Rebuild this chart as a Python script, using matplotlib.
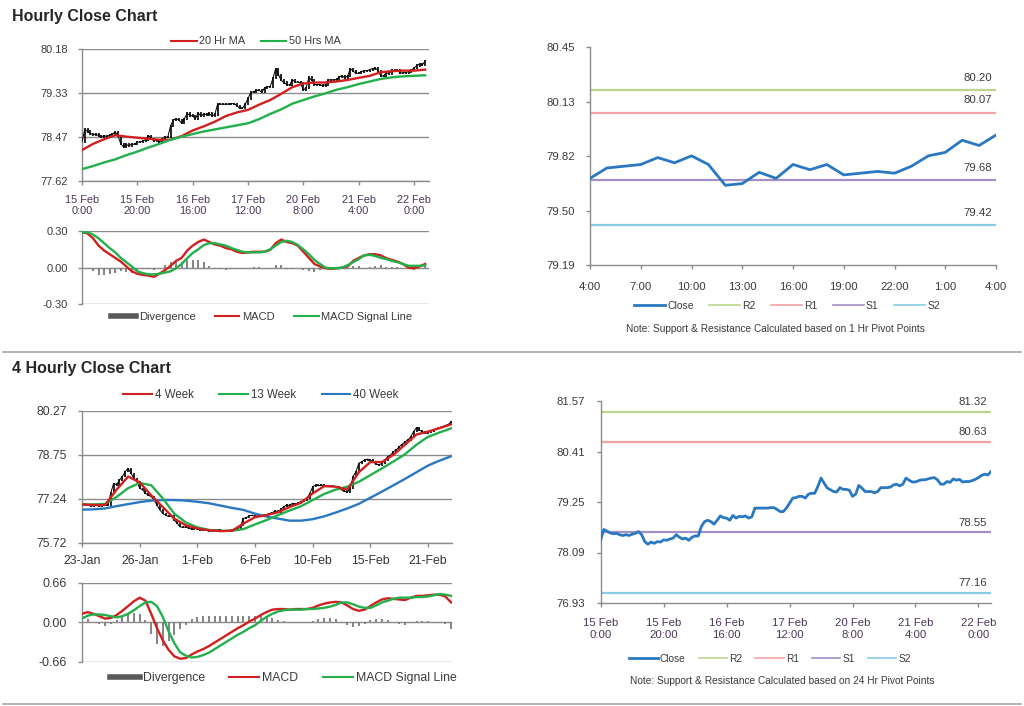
import matplotlib
matplotlib.use('Agg')
import matplotlib.pyplot as plt
import numpy as np
from matplotlib.lines import Line2D

plt.rcParams['font.family'] = ['Liberation Sans', 'DejaVu Sans']

# ---------------- DATA ----------------
hourly_close = [78.38, 78.62, 78.58, 78.54, 78.52, 78.53, 78.50, 78.48, 78.50, 78.48,
                78.51, 78.53, 78.57, 78.50, 78.34, 78.28, 78.33, 78.30, 78.34, 78.33,
                78.38, 78.37, 78.40, 78.42, 78.50, 78.44, 78.40, 78.42, 78.37, 78.44,
                78.47, 78.47, 78.69, 78.80, 78.83, 78.80, 78.74, 78.83, 78.93, 78.89,
                78.88, 78.83, 78.94, 78.88, 78.92, 78.91, 78.93, 78.88, 78.91, 79.11,
                79.11, 79.11, 79.11, 79.11, 79.12, 79.12, 79.08, 79.03, 79.03, 79.11,
                79.22, 79.34, 79.35, 79.38, 79.38, 79.34, 79.43, 79.45, 79.45, 79.61,
                79.80, 79.68, 79.57, 79.53, 79.49, 79.48, 79.58, 79.54, 79.54, 79.52,
                79.38, 79.43, 79.63, 79.57, 79.49, 79.49, 79.49, 79.46, 79.49, 79.58,
                79.58, 79.58, 79.59, 79.64, 79.66, 79.62, 79.66, 79.80, 79.75, 79.71,
                79.71, 79.74, 79.76, 79.76, 79.78, 79.80, 79.81, 79.76, 79.66, 79.66,
                79.72, 79.70, 79.78, 79.75, 79.77, 79.71, 79.72, 79.72, 79.74, 79.77,
                79.81, 79.86, 79.89, 79.87, 79.95]
hourly_tick_labels = ['15 Feb\n0:00', '15 Feb\n20:00', '16 Feb\n16:00', '17 Feb\n12:00',
                      '20 Feb\n8:00', '21 Feb\n4:00', '22 Feb\n0:00']
ma20_hr = [78.22, 78.34, 78.43, 78.51, 78.48, 78.46, 78.44, 78.42, 78.42, 78.49,
           78.60, 78.68, 78.77, 78.88, 78.95, 79.00, 79.10, 79.19, 79.31, 79.44,
           79.51, 79.53, 79.53, 79.55, 79.58, 79.62, 79.66, 79.73, 79.75, 79.76,
           79.76, 79.78]
ma50_hr = [77.85, 77.91, 77.98, 78.04, 78.12, 78.19, 78.27, 78.34, 78.42, 78.48,
           78.53, 78.58, 78.62, 78.66, 78.70, 78.74, 78.82, 78.92, 79.01, 79.12,
           79.19, 79.26, 79.32, 79.39, 79.44, 79.50, 79.55, 79.60, 79.63, 79.65,
           79.66, 79.67]
hourly_yticks = [77.62, 78.47, 79.33, 80.18]

macd_hr = [0.29, 0.28, 0.24, 0.18, 0.14, 0.11, 0.08, 0.05, 0.01, -0.03, -0.05, -0.06,
           -0.065, -0.075, -0.05, -0.02, 0.015, 0.055, 0.08, 0.14, 0.18, 0.21, 0.23,
           0.21, 0.19, 0.18, 0.16, 0.15, 0.13, 0.12, 0.125, 0.13, 0.13, 0.13, 0.145,
           0.20, 0.23, 0.21, 0.20, 0.18, 0.13, 0.08, 0.03, 0.01, -0.005, -0.01, -0.005,
           0.0, 0.01, 0.055, 0.08, 0.10, 0.11, 0.11, 0.10, 0.077, 0.063, 0.05, 0.03,
           0.0, -0.005, 0.01, 0.03]
signal_hr = [0.29, 0.29, 0.27, 0.24, 0.20, 0.16, 0.125, 0.08, 0.045, 0.01, -0.03, -0.045,
             -0.055, -0.055, -0.05, -0.04, -0.03, -0.005, 0.03, 0.077, 0.12, 0.15, 0.185,
             0.20, 0.20, 0.19, 0.18, 0.16, 0.145, 0.13, 0.125, 0.125, 0.125, 0.13, 0.15,
             0.18, 0.21, 0.22, 0.21, 0.185, 0.15, 0.11, 0.063, 0.03, 0.0, -0.005, -0.005,
             0.0, 0.02, 0.045, 0.07, 0.10, 0.105, 0.095, 0.08, 0.07, 0.055, 0.045, 0.03,
             0.015, 0.015, 0.015, 0.02]
macd_hr_yticks = [-0.30, 0.00, 0.30]

last24_close = [79.69, 79.75, 79.76, 79.77, 79.81, 79.78, 79.82, 79.77, 79.65, 79.66,
                79.725, 79.69, 79.77, 79.74, 79.77, 79.71, 79.72, 79.73, 79.72, 79.76,
                79.82, 79.84, 79.91, 79.88, 79.94]
last24_tick_labels = ['4:00', '7:00', '10:00', '13:00', '16:00', '19:00', '22:00', '1:00', '4:00']
last24_yticks = [79.19, 79.50, 79.82, 80.13, 80.45]
pivot_1h = {'R2': 80.20, 'R1': 80.07, 'S1': 79.68, 'S2': 79.42}

fourh_close = [77.05, 77.00, 77.02, 76.98, 77.00, 77.03, 76.98, 77.00, 77.02, 77.00,
               77.45, 77.77, 77.71, 77.88, 78.00, 78.17, 78.28, 78.11, 77.94, 77.82,
               77.60, 77.54, 77.42, 77.36, 77.31, 77.19, 77.02, 76.85, 76.73, 76.67,
               76.62, 76.65, 76.50, 76.39, 76.27, 76.24, 76.27, 76.21, 76.19, 76.24,
               76.19, 76.16, 76.17, 76.15, 76.12, 76.16, 76.13, 76.16, 76.15, 76.13,
               76.12, 76.15, 76.16, 76.16, 76.21, 76.30, 76.56, 76.58, 76.65, 76.67,
               76.62, 76.65, 76.62, 76.67, 76.69, 76.73, 76.76, 76.81, 76.78, 76.88,
               76.96, 77.02, 77.00, 77.08, 77.04, 77.10, 77.14, 77.19, 77.25, 77.42,
               77.65, 77.71, 77.68, 77.71, 77.68, 77.67, 77.68, 77.66, 77.65, 77.60,
               77.54, 77.50, 77.45, 77.60, 78.00, 78.17, 78.46, 78.51, 78.57, 78.60,
               78.57, 78.51, 78.42, 78.40, 78.46, 78.57, 78.69, 78.74, 78.86, 78.92,
               79.03, 79.11, 79.20, 79.26, 79.37, 79.55, 79.69, 79.60, 79.55, 79.49,
               79.52, 79.57, 79.61, 79.66, 79.69, 79.72, 79.76, 79.80, 79.89]
fourh_tick_labels = ['23-Jan', '26-Jan', '1-Feb', '6-Feb', '10-Feb', '15-Feb', '21-Feb']
ma_4week = [77.04, 77.02, 77.02, 77.55, 78.00, 77.80, 77.35, 76.95, 76.55, 76.32,
            76.21, 76.15, 76.12, 76.13, 76.38, 76.60, 76.67, 76.77, 76.95, 77.10,
            77.42, 77.67, 77.65, 77.55, 78.15, 78.50, 78.50, 78.75, 79.10, 79.45,
            79.55, 79.67, 79.80]
ma_13week = [77.04, 77.04, 77.06, 77.30, 77.60, 77.78, 77.70, 77.25, 76.72, 76.42,
             76.25, 76.16, 76.13, 76.13, 76.19, 76.35, 76.50, 76.67, 76.83, 76.98,
             77.19, 77.40, 77.55, 77.65, 77.82, 78.05, 78.28, 78.52, 78.77, 79.10,
             79.37, 79.52, 79.66]
ma_40week = [76.86, 76.87, 76.90, 76.98, 77.05, 77.12, 77.17, 77.19, 77.19, 77.17,
             77.13, 77.08, 77.00, 76.92, 76.85, 76.72, 76.62, 76.55, 76.48, 76.48,
             76.53, 76.63, 76.76, 76.90, 77.06, 77.27, 77.48, 77.70, 77.92, 78.15,
             78.38, 78.55, 78.70]
fourh_yticks = [75.72, 77.24, 78.75, 80.27]

macd_4h = [0.14, 0.17, 0.14, 0.10, 0.06, 0.07, 0.12, 0.19, 0.27, 0.35, 0.41, 0.36, 0.14,
           -0.10, -0.30, -0.46, -0.57, -0.61, -0.60, -0.54, -0.49, -0.45, -0.40, -0.34,
           -0.28, -0.22, -0.16, -0.10, -0.05, 0.01, 0.06, 0.12, 0.17, 0.21, 0.22, 0.22,
           0.21, 0.22, 0.22, 0.22, 0.24, 0.28, 0.31, 0.33, 0.34, 0.33, 0.28, 0.22, 0.19,
           0.21, 0.27, 0.33, 0.38, 0.40, 0.39, 0.38, 0.37, 0.41, 0.44, 0.44, 0.45, 0.46,
           0.46, 0.43, 0.33]
signal_4h = [0.06, 0.11, 0.13, 0.13, 0.12, 0.10, 0.08, 0.10, 0.14, 0.20, 0.27, 0.33, 0.34,
             0.27, 0.09, -0.15, -0.35, -0.50, -0.56, -0.59, -0.58, -0.55, -0.51, -0.45,
             -0.39, -0.33, -0.27, -0.21, -0.16, -0.10, -0.05, 0.02, 0.09, 0.14, 0.18, 0.20,
             0.21, 0.21, 0.21, 0.22, 0.22, 0.23, 0.24, 0.26, 0.29, 0.33, 0.33, 0.30, 0.26,
             0.24, 0.24, 0.28, 0.33, 0.36, 0.39, 0.41, 0.41, 0.41, 0.42, 0.42, 0.43, 0.45,
             0.47, 0.46, 0.44]
macd_4h_yticks = [-0.66, 0.00, 0.66]

wk_yticks = [76.93, 78.09, 79.25, 80.41, 81.57]
pivot_24h = {'R2': 81.32, 'R1': 80.63, 'S1': 78.55, 'S2': 77.16}

# ---------------- STYLE ----------------
W, H = 1024, 706
fig = plt.figure(figsize=(W / 100, H / 100), dpi=100)
fig.patch.set_facecolor('white')

RED = '#d0201f'
GREEN = '#22b04b'
BLUE = '#2a78c2'
GRID = '#8c8c8c'
SPINE = '#8c8c8c'
TXT = '#3a3a3a'
DATE_TXT = '#4a3658'
HIST = '#7a7a7a'
LVL = {'R2': '#b9d58e', 'R1': '#f2a3a3', 'S1': '#a48fc6', 'S2': '#86cbe4'}


def px_axes(x0, y0, x1, y1):
    return fig.add_axes([x0 / W, 1 - y1 / H, (x1 - x0) / W, (y1 - y0) / H])


def base_style(ax, fs, ypad, xpad):
    for s in ['top', 'right']:
        ax.spines[s].set_visible(False)
    for s in ['left', 'bottom']:
        ax.spines[s].set_color(SPINE)
        ax.spines[s].set_linewidth(1)
    ax.tick_params(axis='both', direction='out', length=3, width=1, color=SPINE,
                   labelsize=fs, labelcolor=TXT)
    ax.tick_params(axis='y', pad=ypad)
    ax.tick_params(axis='x', pad=xpad)
    ax.set_facecolor('none')


def price_bars(ax, closes):
    c = np.asarray(closes)
    x = np.arange(len(c))
    lo = np.minimum(c[:-1], c[1:])
    hi = np.maximum(c[:-1], c[1:])
    ax.vlines(x[1:], lo - 0.02, hi + 0.02, color='black', lw=1.2, zorder=3)
    ax.plot(x, c, color='black', lw=0.7, zorder=3)


def legend(handles, labels, cx, cy, fs, hl, cs, ht=0.25):
    fig.legend(handles, labels, loc='center', bbox_to_anchor=(cx / W, 1 - cy / H),
               ncol=len(handles), frameon=False, fontsize=fs, handlelength=hl,
               columnspacing=cs, handletextpad=ht, labelcolor=TXT, borderpad=0,
               borderaxespad=0)


# ---------------- TITLES / SEPARATORS ----------------
fig.text(12 / W, 1 - 16 / H, 'Hourly Close Chart', fontsize=11.5, fontweight='bold',
         color='#262626', va='center', ha='left')
fig.text(12 / W, 1 - 369 / H, '4 Hourly Close Chart', fontsize=11.5, fontweight='bold',
         color='#262626', va='center', ha='left')
fig.add_artist(Line2D([0.003, 0.997], [1 - 352 / H, 1 - 352 / H], color='#a6a6a6', lw=1.2))
fig.add_artist(Line2D([0.003, 0.997], [1 - 703.5 / H, 1 - 703.5 / H], color='#a6a6a6', lw=1.2))

# ---------------- TOP-LEFT: HOURLY PRICE ----------------
ax1 = px_axes(82, 49, 429, 181)
base_style(ax1, 7.9, 7, 7)
xh = np.arange(len(hourly_close))
price_bars(ax1, hourly_close)
xma = np.arange(len(ma20_hr)) * 4
ax1.plot(xma, ma20_hr, color=RED, lw=1.7, zorder=4)
ax1.plot(xma, ma50_hr, color=GREEN, lw=1.7, zorder=4)
ax1.set_xlim(0, 125.4)
ax1.set_ylim(hourly_yticks[0], hourly_yticks[-1])
ax1.set_yticks(hourly_yticks)
ax1.set_yticklabels([f'{v:.2f}' for v in hourly_yticks])
ax1.set_xticks(np.arange(0, 121, 20))
ax1.set_xticklabels(hourly_tick_labels, color=DATE_TXT, linespacing=1.15)
ax1.yaxis.grid(True, color=GRID, lw=1)
ax1.set_axisbelow(True)
legend([Line2D([], [], color=RED, lw=1.5), Line2D([], [], color=GREEN, lw=1.5)],
       ['20 Hr MA', '50 Hrs MA'], 256, 41.5, 7.9, 2.3, 1.4)

# ---------------- TOP-LEFT: HOURLY MACD ----------------
ax2 = px_axes(82, 231, 429, 304.3)
base_style(ax2, 8, 7, 3)
xm = np.arange(len(macd_hr)) * 2
div_hr = np.array(macd_hr) - np.array(signal_hr)
ax2.vlines(xm, 0, div_hr, color=HIST, lw=1.3, zorder=2)
ax2.axhline(0, color='#a0a0a0', lw=0.8, zorder=1)
ax2.plot(xm, macd_hr, color=RED, lw=1.7, zorder=4)
ax2.plot(xm, signal_hr, color=GREEN, lw=1.7, zorder=4)
ax2.set_xlim(0, 125.4)
ax2.set_ylim(-0.30, 0.30)
ax2.set_yticks(macd_hr_yticks)
ax2.set_yticklabels([f'{v:.2f}' for v in macd_hr_yticks])
ax2.set_xticks([])
ax2.yaxis.grid(True, color=GRID, lw=1)
ax2.spines['bottom'].set_visible(False)
legend([Line2D([], [], color='#595959', lw=4), Line2D([], [], color=RED, lw=1.5),
        Line2D([], [], color=GREEN, lw=1.5)],
       ['Divergence', 'MACD', 'MACD Signal Line'], 262, 317, 8.0, 2.2, 1.75)

# ---------------- TOP-RIGHT: LAST 24 HOURS WITH PIVOTS ----------------
ax3 = px_axes(590, 46.7, 996, 265)
base_style(ax3, 8.2, 8, 9)
x24 = np.arange(len(last24_close))
for k in ['R2', 'R1', 'S1', 'S2']:
    ax3.axhline(pivot_1h[k], color=LVL[k], lw=1.6, zorder=2)
    ax3.annotate(f'{pivot_1h[k]:.2f}', xy=(24, pivot_1h[k]), xytext=(-3, 9),
                 textcoords='offset points', ha='right', va='center', fontsize=8.2,
                 color=TXT)
ax3.plot(x24, last24_close, color=BLUE, lw=2.0, zorder=4)
ax3.set_xlim(0, 24)
ax3.set_ylim(last24_yticks[0], last24_yticks[-1])
ax3.set_yticks(last24_yticks)
ax3.set_yticklabels([f'{v:.2f}' for v in last24_yticks])
ax3.set_xticks(np.arange(0, 25, 3))
ax3.set_xticklabels(last24_tick_labels)
lvl_handles = [Line2D([], [], color=BLUE, lw=2.0)] + \
              [Line2D([], [], color=LVL[k], lw=1.2) for k in ['R2', 'R1', 'S1', 'S2']]
legend(lvl_handles, ['Close', 'R2', 'R1', 'S1', 'S2'], 787, 306, 7.5, 3.0, 1.45, 0.2)
fig.text(775 / W, 1 - 329 / H, 'Note: Support & Resistance Calculated based on 1 Hr Pivot Points',
         fontsize=7.3, color=TXT, ha='center', va='center')

# ---------------- BOTTOM-LEFT: 4-HOURLY PRICE ----------------
ax4 = px_axes(82, 410.7, 452, 542.7)
base_style(ax4, 8.8, 8, 6)
price_bars(ax4, fourh_close)
x4ma = np.arange(len(ma_4week)) * 4
ax4.plot(x4ma, ma_40week, color=BLUE, lw=1.7, zorder=4)
ax4.plot(x4ma, ma_13week, color=GREEN, lw=1.7, zorder=4)
ax4.plot(x4ma, ma_4week, color=RED, lw=1.7, zorder=5)
ax4.set_xlim(0, 128.3)
ax4.set_ylim(fourh_yticks[0], fourh_yticks[-1])
ax4.set_yticks(fourh_yticks)
ax4.set_yticklabels([f'{v:.2f}' for v in fourh_yticks])
ax4.set_xticks(np.arange(0, 121, 20))
ax4.set_xticklabels(fourh_tick_labels, color='#333333')
ax4.yaxis.grid(True, color=GRID, lw=1)
ax4.set_axisbelow(True)
legend([Line2D([], [], color=RED, lw=1.5), Line2D([], [], color=GREEN, lw=1.5),
        Line2D([], [], color=BLUE, lw=1.5)],
       ['4 Week', '13 Week', '40 Week'], 261, 395, 8.3, 2.5, 2.2)

# ---------------- BOTTOM-LEFT: 4-HOURLY MACD ----------------
ax5 = px_axes(82, 582.7, 452, 661.7)
base_style(ax5, 9.0, 8, 3)
x4m = np.arange(len(macd_4h)) * 2
div_4h = np.array(macd_4h) - np.array(signal_4h)
ax5.vlines(x4m, 0, div_4h, color=HIST, lw=1.3, zorder=2)
ax5.axhline(0, color='#a0a0a0', lw=0.8, zorder=1)
ax5.plot(x4m, macd_4h, color=RED, lw=1.7, zorder=4)
ax5.plot(x4m, signal_4h, color=GREEN, lw=1.7, zorder=4)
ax5.set_xlim(0, 128.3)
ax5.set_ylim(-0.66, 0.66)
ax5.set_yticks(macd_4h_yticks)
ax5.set_yticklabels([f'{v:.2f}' for v in macd_4h_yticks])
ax5.set_xticks([])
ax5.yaxis.grid(True, color=GRID, lw=1)
ax5.spines['bottom'].set_visible(False)
legend([Line2D([], [], color='#595959', lw=4), Line2D([], [], color=RED, lw=1.5),
        Line2D([], [], color=GREEN, lw=1.5)],
       ['Divergence', 'MACD', 'MACD Signal Line'], 283, 678, 8.8, 2.45, 2.0)

# ---------------- BOTTOM-RIGHT: HOURLY CLOSE WITH 24H PIVOTS ----------------
ax6 = px_axes(600.7, 401, 991, 603)
base_style(ax6, 8.2, 8, 8)
for k in ['R2', 'R1', 'S1', 'S2']:
    ax6.axhline(pivot_24h[k], color=LVL[k], lw=1.6, zorder=2)
    ax6.annotate(f'{pivot_24h[k]:.2f}', xy=(124, pivot_24h[k]), xytext=(-3, 7),
                 textcoords='offset points', ha='right', va='center', fontsize=8.2,
                 color=TXT)
ax6.plot(xh, hourly_close, color=BLUE, lw=2.0, zorder=4)
ax6.set_xlim(0, 124)
ax6.set_ylim(wk_yticks[0], wk_yticks[-1])
ax6.set_yticks(wk_yticks)
ax6.set_yticklabels([f'{v:.2f}' for v in wk_yticks])
ax6.set_xticks(np.arange(0, 121, 20))
ax6.set_xticklabels(hourly_tick_labels, color=DATE_TXT, linespacing=1.2)
legend(lvl_handles, ['Close', 'R2', 'R1', 'S1', 'S2'], 770, 659, 7.3, 2.8, 1.3, 0.2)
fig.text(782 / W, 1 - 681 / H, 'Note: Support & Resistance Calculated based on 24 Hr Pivot Points',
         fontsize=7.3, color=TXT, ha='center', va='center')

fig.savefig('out.png', dpi=100, facecolor='white')
